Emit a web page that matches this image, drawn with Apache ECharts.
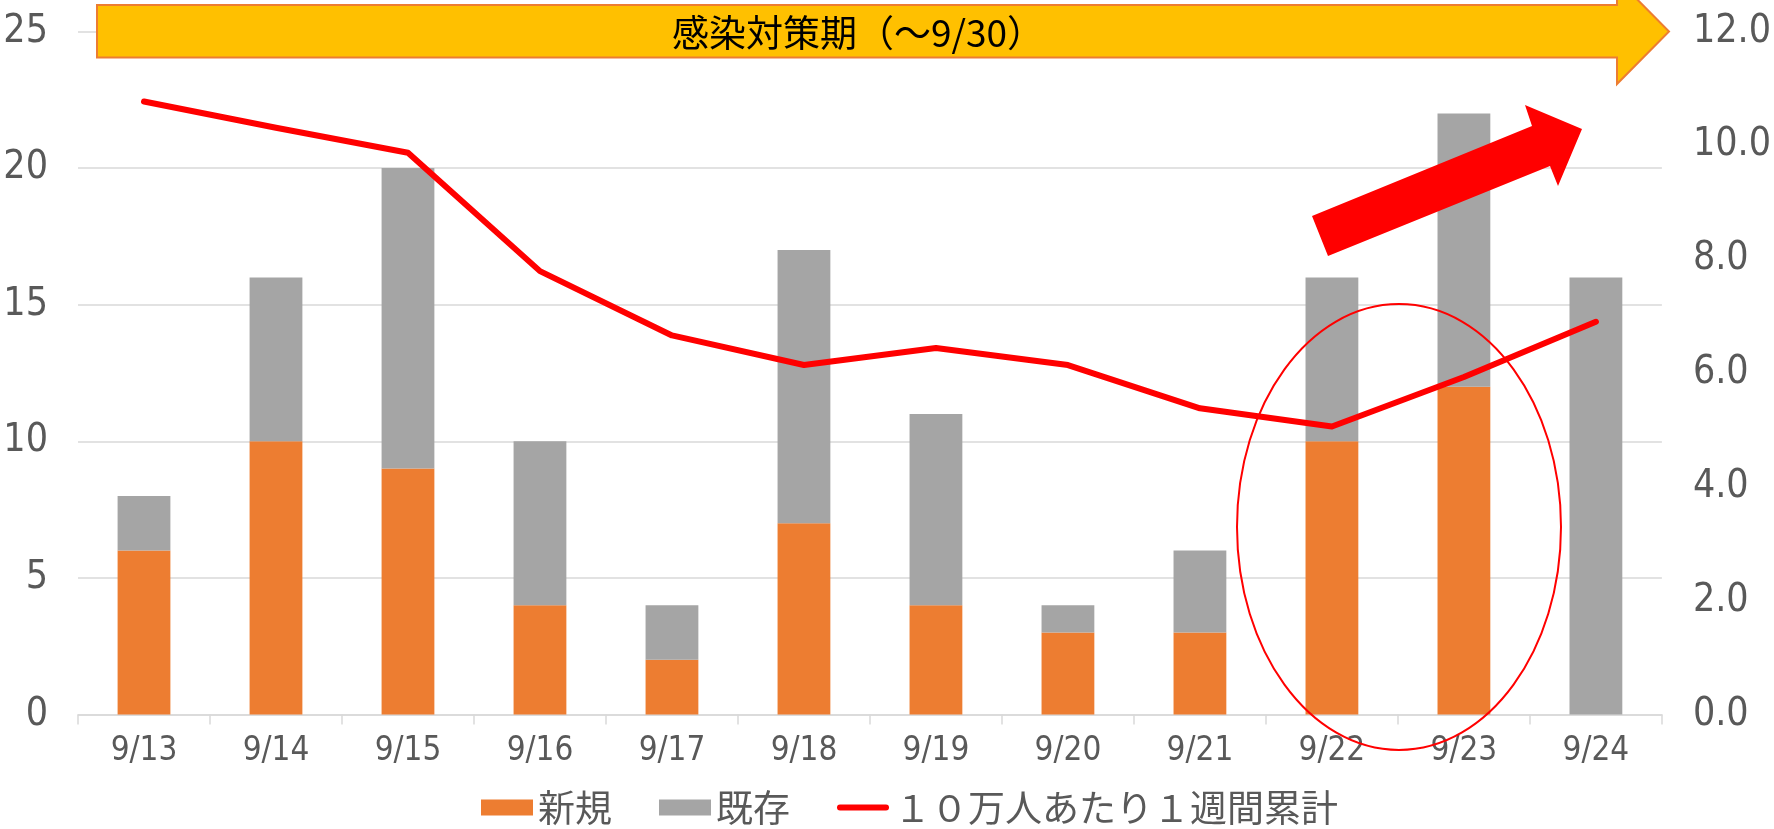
<!DOCTYPE html>
<html>
<head>
<meta charset="utf-8">
<script src="https://cdn.jsdelivr.net/npm/echarts@6/dist/echarts.min.js"></script>
<style>
html,body{margin:0;padding:0;background:#fff;}
#chart{width:1774px;height:829px;}
</style>
</head>
<body>
<div id="chart"></div>
<script>
const categories = ['9/13','9/14','9/15','9/16','9/17','9/18','9/19','9/20','9/21','9/22','9/23','9/24'];
const newCases = [6, 10, 9, 4, 2, 7, 4, 3, 3, 10, 12, 0];
const existingCases = [2, 6, 11, 6, 2, 10, 7, 1, 3, 6, 10, 16];
const weeklyPer100k = [10.77, 10.31, 9.87, 7.79, 6.66, 6.14, 6.44, 6.14, 5.38, 5.06, 5.93, 6.9];
const seriesNames = ['新規', '既存', '１０万人あたり１週間累計'];
const bannerText = '感染対策期（～9/30）';

const numFont = "'DejaVu Sans Condensed', 'Roboto', sans-serif";
const cjkFont = "'Noto Sans CJK JP', 'Noto Sans', sans-serif";

const chart = echarts.init(document.getElementById('chart'), null, {renderer: 'canvas'});
chart.setOption({
  animation: false,
  backgroundColor: '#ffffff',
  grid: {left: 78, right: 105, top: 31.5, bottom: 114.5, containLabel: false},
  legend: {
    left: 476, top: 784,
    itemWidth: 52, itemHeight: 16, itemGap: 47,
    symbolKeepAspect: true,
    textStyle: {fontFamily: cjkFont, fontSize: 37, color: '#595959', padding: [0,0,0,0]},
    data: [
      {name: seriesNames[0], icon: 'rect'},
      {name: seriesNames[1], icon: 'rect'},
      {name: seriesNames[2], icon: 'path://M3,0 L49,0 A3,3 0 0 1 49,6 L3,6 A3,3 0 0 1 3,0 Z'}
    ]
  },
  xAxis: {
    type: 'category',
    data: categories,
    axisLine: {lineStyle: {color: '#D9D9D9', width: 1.5}},
    axisTick: {show: true, length: 10, lineStyle: {color: '#D9D9D9', width: 1.5}},
    axisLabel: {fontFamily: numFont, fontSize: 33, color: '#595959', margin: 20}
  },
  yAxis: [
    {
      type: 'value', min: 0, max: 25, interval: 5,
      axisLine: {show: false}, axisTick: {show: false},
      splitLine: {lineStyle: {color: '#D9D9D9', width: 1.5}},
      axisLabel: {fontFamily: numFont, fontSize: 39, color: '#595959', margin: 30}
    },
    {
      type: 'value', min: 0, max: 12, interval: 2,
      axisLine: {show: false}, axisTick: {show: false},
      splitLine: {show: false},
      axisLabel: {fontFamily: numFont, fontSize: 39, color: '#595959', margin: 31,
        formatter: v => v.toFixed(1)}
    }
  ],
  series: [
    {
      name: seriesNames[0], type: 'bar', stack: 'total', data: newCases,
      barWidth: '40%', itemStyle: {color: '#ED7D31'}, yAxisIndex: 0
    },
    {
      name: seriesNames[1], type: 'bar', stack: 'total', data: existingCases,
      barWidth: '40%', itemStyle: {color: '#A5A5A5'}, yAxisIndex: 0
    },
    {
      name: seriesNames[2], type: 'line', data: weeklyPer100k, yAxisIndex: 1,
      symbol: 'none', showSymbol: false,
      lineStyle: {color: '#FF0000', width: 6, cap: 'round', join: 'round'},
      itemStyle: {color: '#FF0000'}, z: 5
    }
  ],
  graphic: [
    {
      type: 'ellipse', z: 50,
      shape: {cx: 1399, cy: 527, rx: 162, ry: 223},
      style: {fill: 'none', stroke: '#FF0000', lineWidth: 2}
    },
    {
      type: 'polygon', z: 60,
      shape: {points: [[1312,216],[1532,126],[1525,105],[1582,129],[1558,186],[1550,166],[1328,256]]},
      style: {fill: '#FF0000'}
    },
    {
      type: 'polygon', z: 70,
      shape: {points: [[97,5],[1617,5],[1617,-21],[1669,31.5],[1617,84],[1617,57.5],[97,57.5]]},
      style: {fill: '#FFC000', stroke: '#ED7D31', lineWidth: 2}
    },
    {
      type: 'text', z: 80, x: 858, y: 33,
      style: {text: bannerText, fill: '#000000', font: "37px 'Noto Sans CJK JP', sans-serif",
        textAlign: 'center', textVerticalAlign: 'middle'}
    }
  ]
});
</script>
</body>
</html>
